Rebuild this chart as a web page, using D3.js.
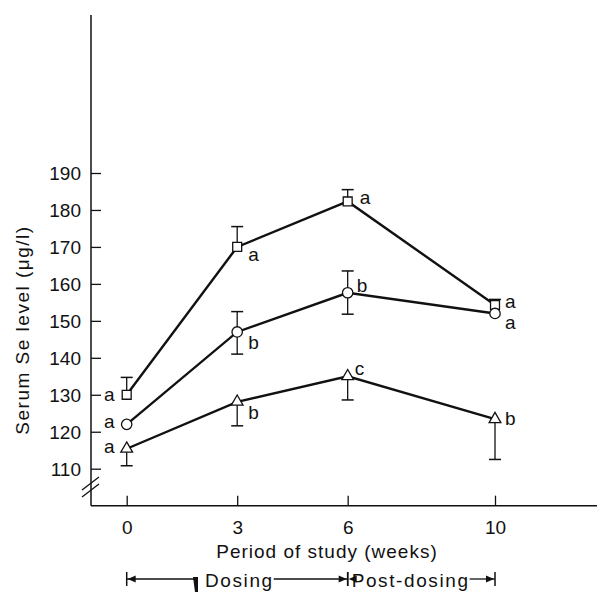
<!DOCTYPE html>
<html>
<head>
<meta charset="utf-8">
<script src="https://cdn.jsdelivr.net/npm/d3@7"></script>
<style>
  body { margin: 0; background: #fff; }
  svg { display: block; }
  text { font-family: "Liberation Sans", Arial, sans-serif; fill: #111; }
</style>
</head>
<body>
<svg class="chart" width="597" height="592"></svg>
<script>
// weeks of study
var weeks = [0, 3, 6, 10];
var xTicks = [0, 3, 6, 10];
var yTicks = [110, 120, 130, 140, 150, 160, 170, 180, 190];

// serum Se (ug/l)
var squareVals = [130, 170, 182.3, 154.3];
var squareHi = [134.7, 175.5, 185.5, 155.8];
var squareLo = [null, null, null, null];
var squareLetters = ['a', 'a', 'a', 'a'];

var circleVals = [122, 147, 157.6, 152];
var circleHi = [null, 152.5, 163.5, null];
var circleLo = [null, 141, 151.8, null];
var circleLetters = ['a', 'b', 'b', 'a'];

var triangleVals = [115.4, 128.1, 135, 123.4];
var triangleHi = [null, null, null, null];
var triangleLo = [110.8, 121.6, 128.6, 112.5];
var triangleLetters = ['a', 'b', 'c', 'b'];

// phases under the x axis
var phases = [
  { name: 'Dosing', from: 0, to: 6 },
  { name: 'Post-dosing', from: 6, to: 10 }
];

var series = [
  { shape: 'square', vals: squareVals, hi: squareHi, lo: squareLo, letters: squareLetters,
    // letter offsets (dx, dy, anchor) per point
    off: [[-12, 0, 'end'], [11, 8, 'start'], [12, -4, 'start'], [10, -3, 'start']] },
  { shape: 'circle', vals: circleVals, hi: circleHi, lo: circleLo, letters: circleLetters,
    off: [[-12, -2, 'end'], [11, 11, 'start'], [9, -7, 'start'], [10, 9, 'start']] },
  { shape: 'triangle', vals: triangleVals, hi: triangleHi, lo: triangleLo, letters: triangleLetters,
    off: [[-12, -2, 'end'], [11, 11, 'start'], [7, -7, 'start'], [10, 0, 'start']] }
];

var svg = d3.select(".chart");

var x = d3.scaleLinear().domain([0, 10]).range([126.7, 495]);
var y = d3.scaleLinear().domain([110, 190]).range([468.7, 173]);

var axisX0 = 91;            // y axis position
var axisY0 = y(100);        // x axis position

// y axis line + break
svg.append("line")
    .attr("x1", axisX0).attr("x2", axisX0)
    .attr("y1", 15).attr("y2", axisY0)
    .attr("stroke", "#111").attr("stroke-width", 1.5);

[0, 7].forEach(function(o) {
  svg.append("line")
      .attr("x1", 82).attr("y1", 490 + o)
      .attr("x2", 99).attr("y2", 477 + o)
      .attr("stroke", "#111").attr("stroke-width", 1.3);
});

var yAxis = d3.axisRight(y).tickValues(yTicks).tickSize(10).tickPadding(0);
var gy = svg.append("g")
    .attr("transform", "translate(" + axisX0 + ",0)")
    .call(yAxis);
gy.select(".domain").remove();
gy.selectAll(".tick line").attr("stroke", "#111").attr("stroke-width", 1.3);
gy.selectAll(".tick text")
    .attr("x", -10)
    .attr("text-anchor", "end")
    .attr("dy", "0.36em")
    .style("font-size", "19px")
    .attr("fill", "#111");

// x axis
svg.append("line")
    .attr("x1", axisX0).attr("x2", 597)
    .attr("y1", axisY0).attr("y2", axisY0)
    .attr("stroke", "#111").attr("stroke-width", 1.5);

var xAxis = d3.axisTop(x).tickValues(xTicks).tickSize(10).tickPadding(0);
var gx = svg.append("g")
    .attr("transform", "translate(0," + axisY0 + ")")
    .call(xAxis);
gx.select(".domain").remove();
gx.selectAll(".tick line").attr("stroke", "#111").attr("stroke-width", 1.3);
gx.selectAll(".tick text")
    .attr("y", 28)
    .attr("dy", 0)
    .style("font-size", "19px")
    .attr("fill", "#111");

// axis titles
svg.append("text")
    .attr("x", 327).attr("y", 558)
    .attr("text-anchor", "middle")
    .style("font-size", "19px")
    .style("letter-spacing", "1px")
    .text("Period of study (weeks)");

svg.append("text")
    .attr("transform", "translate(29,330) rotate(-90)")
    .attr("text-anchor", "middle")
    .style("font-size", "19px")
    .style("letter-spacing", "1.5px")
    .text("Serum Se level (\u03bcg/l)");

// lines
var line = d3.line()
    .x(function(d, i) { return x(weeks[i]); })
    .y(function(d) { return y(d); });

series.forEach(function(s) {
  svg.append("path")
      .datum(s.vals)
      .attr("d", line)
      .attr("fill", "none")
      .attr("stroke", "#111")
      .attr("stroke-width", 2.4);
});

// error bars
series.forEach(function(s) {
  var g = svg.append("g").attr("class", "err");
  s.vals.forEach(function(v, i) {
    [s.hi[i], s.lo[i]].forEach(function(e) {
      if (e == null) return;
      var cx = x(weeks[i]);
      g.append("line")
          .attr("x1", cx).attr("x2", cx)
          .attr("y1", y(v)).attr("y2", y(e))
          .attr("stroke", "#111").attr("stroke-width", 1.3);
      g.append("line")
          .attr("x1", cx - 6).attr("x2", cx + 6)
          .attr("y1", y(e)).attr("y2", y(e))
          .attr("stroke", "#111").attr("stroke-width", 1.5);
    });
  });
});

// markers
var symbols = {
  square: d3.symbol().type(d3.symbolSquare).size(80),
  circle: d3.symbol().type(d3.symbolCircle).size(85),
  triangle: d3.symbol().type(d3.symbolTriangle).size(60)
};

series.forEach(function(s) {
  svg.append("g").selectAll("path")
      .data(s.vals)
      .enter().append("path")
      .attr("d", symbols[s.shape])
      .attr("transform", function(d, i) {
        return "translate(" + x(weeks[i]) + "," + y(d) + ")";
      })
      .attr("fill", "#fff")
      .attr("stroke", "#111")
      .attr("stroke-width", 1.3);

  svg.append("g").selectAll("text")
      .data(s.letters)
      .enter().append("text")
      .attr("x", function(d, i) { return x(weeks[i]) + s.off[i][0]; })
      .attr("y", function(d, i) { return y(s.vals[i]) + s.off[i][1]; })
      .attr("dy", "0.32em")
      .attr("text-anchor", function(d, i) { return s.off[i][2]; })
      .style("font-size", "19px")
      .text(function(d) { return d; });
});

// phase arrows below the axis
var py = 579;
function arrowHead(px, dir) {
  // dir = -1 points left, 1 points right
  svg.append("path")
      .attr("d", "M" + px + "," + py + "L" + (px - dir * 8) + "," + (py - 3.5) +
                 "L" + (px - dir * 8) + "," + (py + 3.5) + "Z")
      .attr("fill", "#111");
}
phases.forEach(function(p) {
  var x1 = x(p.from), x2 = x(p.to);
  var t = svg.append("text")
      .attr("y", 587)
      .style("font-size", "19px")
      .style("letter-spacing", "1.6px")
      .text(p.name);
  var w = t.node().getComputedTextLength();
  var tx = p.name == 'Dosing' ? 205 : x1 + 4;
  t.attr("x", tx);
  var segs = p.name == 'Dosing' ? [[x1, 196], [tx + w, x2]] : [[tx + w, x2]];
  segs.forEach(function(sg) {
    svg.append("line")
        .attr("x1", sg[0]).attr("x2", sg[1])
        .attr("y1", py).attr("y2", py)
        .attr("stroke", "#111").attr("stroke-width", 1.3);
  });
  [x1, x2].forEach(function(bx) {
    svg.append("line")
        .attr("x1", bx).attr("x2", bx)
        .attr("y1", py - 7).attr("y2", py + 7)
        .attr("stroke", "#111").attr("stroke-width", 1.5);
  });
  arrowHead(x1 + 1, -1);
  arrowHead(x2 - 1, 1);
});

// small scan mark next to "Dosing"
svg.append("path")
    .attr("d", "M193,577 L198,577 L198,592 L195,592 Z")
    .attr("fill", "#111");
</script>
</body>
</html>
